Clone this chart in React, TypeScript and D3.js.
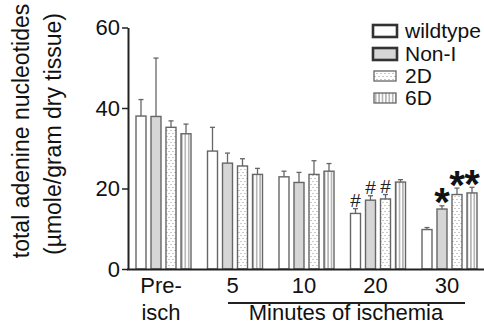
import React from "react";
import * as d3 from "d3";

const groups = ["Pre-isch", "5", "10", "20", "30"];
const series = ["wildtype", "Non-I", "2D", "6D"];

// mean and upper SEM
const wildtypeMean = [38.0, 29.3, 22.9, 13.8, 9.8];
const wildtypeErr = [4.1, 5.9, 1.4, 1.2, 0.5];
const nonIMean = [37.9, 26.3, 21.5, 17.1, 14.9];
const nonIErr = [14.5, 2.5, 2.5, 1.1, 0.8];
const d2Mean = [35.2, 25.6, 23.5, 17.4, 18.5];
const d2Err = [1.6, 1.8, 3.4, 1.1, 1.6];
const d6Mean = [33.6, 23.5, 24.3, 21.6, 18.9];
const d6Err = [2.4, 1.5, 1.9, 0.6, 1.4];

const yTicks = [0, 20, 40, 60];
const hashMarks = [["20", "wildtype"], ["20", "Non-I"], ["20", "2D"]];
const starMarks = [["30", "Non-I"], ["30", "2D"], ["30", "6D"]];

const FONT = "'Liberation Sans', Arial, sans-serif";

export default function App() {
  const svgRef = React.useRef<SVGSVGElement>(null);
  const width = 484;
  const height = 325;

  React.useEffect(() => {
    const svg = d3.select(svgRef.current);
    svg.selectAll("*").remove();

    const means = [wildtypeMean, nonIMean, d2Mean, d6Mean];
    const errs = [wildtypeErr, nonIErr, d2Err, d6Err];
    const rows: { g: string; s: string; v: number; e: number }[] = [];
    groups.forEach((g, gi) => {
      series.forEach((s, si) => {
        rows.push({ g, s, v: means[si][gi], e: errs[si][gi] });
      });
    });

    const x0 = d3.scaleBand().domain(groups).range([128.25, 485.75]);
    const x1 = d3
      .scaleBand()
      .domain(series)
      .range([7.75, 62.75])
      .paddingInner(1 / 3);
    const y = d3.scaleLinear().domain([0, 60]).range([269, 27.5]);

    /* patterns */
    const defs = svg.append("defs");
    const dots = defs
      .append("pattern")
      .attr("id", "dots")
      .attr("patternUnits", "userSpaceOnUse")
      .attr("width", 4)
      .attr("height", 6);
    dots.append("rect").attr("width", 4).attr("height", 6).attr("fill", "#fff");
    dots.append("circle").attr("cx", 1).attr("cy", 1.5).attr("r", 0.6).attr("fill", "#8a8a8a");
    dots.append("circle").attr("cx", 3).attr("cy", 4.5).attr("r", 0.6).attr("fill", "#8a8a8a");

    const vlines = defs
      .append("pattern")
      .attr("id", "vlines")
      .attr("patternUnits", "userSpaceOnUse")
      .attr("width", 3.4)
      .attr("height", 10);
    vlines.append("rect").attr("width", 3.4).attr("height", 10).attr("fill", "#fff");
    vlines
      .append("line")
      .attr("x1", 1.7)
      .attr("x2", 1.7)
      .attr("y1", 0)
      .attr("y2", 10)
      .attr("stroke", "#777")
      .attr("stroke-width", 0.9);

    const fillFor = (s: string) =>
      s === "Non-I" ? "#d6d6d6" : s === "2D" ? "url(#dots)" : s === "6D" ? "url(#vlines)" : "#fff";

    const bx = (g: string, s: string) => (x0(g) ?? 0) + (x1(s) ?? 0);
    const bw = x1.bandwidth();

    /* error bars */
    const eb = svg.append("g").attr("stroke", "#666").attr("stroke-width", 1.3);
    rows.forEach((d) => {
      const cx = bx(d.g, d.s) + bw / 2;
      eb.append("line")
        .attr("x1", cx)
        .attr("x2", cx)
        .attr("y1", y(d.v))
        .attr("y2", y(d.v + d.e));
      eb.append("line")
        .attr("x1", cx - 2.5)
        .attr("x2", cx + 2.5)
        .attr("y1", y(d.v + d.e))
        .attr("y2", y(d.v + d.e));
    });

    /* bars */
    svg
      .append("g")
      .selectAll("rect")
      .data(rows)
      .enter()
      .append("rect")
      .attr("x", (d) => bx(d.g, d.s))
      .attr("y", (d) => y(d.v))
      .attr("width", bw)
      .attr("height", (d) => y(0) - y(d.v))
      .attr("fill", (d) => fillFor(d.s))
      .attr("stroke", "#666")
      .attr("stroke-width", 1.4);

    /* significance marks */
    const findRow = (g: string, s: string) => rows.find((r) => r.g === g && r.s === s)!;
    hashMarks.forEach(([g, s]) => {
      const r = findRow(g, s);
      svg
        .append("text")
        .attr("x", bx(g, s) + bw / 2)
        .attr("y", y(r.v + r.e) - 1.5)
        .attr("text-anchor", "middle")
        .attr("font-family", FONT)
        .attr("font-size", 19)
        .attr("fill", "#222")
        .text("#");
    });
    starMarks.forEach(([g, s]) => {
      const r = findRow(g, s);
      svg
        .append("text")
        .attr("x", bx(g, s) + bw / 2)
        .attr("y", y(r.v + r.e) + 10.5)
        .attr("text-anchor", "middle")
        .attr("font-family", FONT)
        .attr("font-size", 40)
        .attr("font-weight", "bold")
        .attr("fill", "#111")
        .text("*");
    });

    /* y axis */
    const yAxis = d3
      .axisLeft(y)
      .tickValues(yTicks)
      .tickSize(6)
      .tickSizeOuter(0)
      .tickPadding(2)
      .tickFormat((d) => String(d));
    const ya = svg.append("g").attr("transform", "translate(128,0)").call(yAxis);
    ya.select(".domain").attr("stroke", "#222").attr("stroke-width", 2);
    ya.selectAll(".tick line").attr("stroke", "#222").attr("stroke-width", 1.5);
    ya.selectAll(".tick text")
      .attr("font-family", FONT)
      .attr("font-size", 22)
      .attr("fill", "#111");

    /* x axis line */
    svg
      .append("line")
      .attr("x1", 127)
      .attr("x2", 484)
      .attr("y1", y(0) + 0.5)
      .attr("y2", y(0) + 0.5)
      .attr("stroke", "#222")
      .attr("stroke-width", 2);

    /* group labels */
    const lbl = svg
      .append("g")
      .attr("font-family", FONT)
      .attr("font-size", 22)
      .attr("fill", "#111")
      .attr("text-anchor", "middle");
    groups.forEach((g) => {
      const cx = (x0(g) ?? 0) + x0.bandwidth() / 2 - 3;
      if (g === "Pre-isch") {
        lbl.append("text").attr("x", cx).attr("y", 293).text("Pre-");
        lbl.append("text").attr("x", cx).attr("y", 320).text("isch");
      } else {
        lbl.append("text").attr("x", cx).attr("y", 293).text(g);
      }
    });
    svg
      .append("line")
      .attr("x1", 228)
      .attr("x2", 465)
      .attr("y1", 303)
      .attr("y2", 303)
      .attr("stroke", "#222")
      .attr("stroke-width", 2);
    lbl.append("text").attr("x", 346).attr("y", 320).text("Minutes of ischemia");

    /* y title */
    const yt = svg
      .append("g")
      .attr("font-family", FONT)
      .attr("font-size", 23)
      .attr("fill", "#111")
      .attr("text-anchor", "middle");
    yt.append("text")
      .attr("transform", "translate(29,131) rotate(-90)")
      .text("total adenine nucleotides");
    yt.append("text")
      .attr("transform", "translate(61,134) rotate(-90)")
      .text("(\u00b5mole/gram dry tissue)");

    /* legend */
    const legY = [31, 54, 76, 98];
    const leg = svg.append("g");
    series.forEach((s, i) => {
      const heavy = i < 2;
      leg.append("rect")
        .attr("x", heavy ? 373 : 374)
        .attr("y", legY[i] - (heavy ? 6 : 5))
        .attr("width", heavy ? 24 : 22)
        .attr("height", heavy ? 12 : 10)
        .attr("fill", fillFor(s))
        .attr("stroke", heavy ? "#333" : "#666")
        .attr("stroke-width", heavy ? 2.6 : 1.3);
      leg.append("text")
        .attr("x", 405)
        .attr("y", legY[i])
        .attr("dy", "0.35em")
        .attr("font-family", FONT)
        .attr("font-size", 21)
        .attr("fill", "#111")
        .text(s);
    });
  }, []);

  return (
    <div style={{ position: "absolute", left: 0, top: 0 }}>
      <svg ref={svgRef} width={width} height={height} style={{ display: "block", background: "#fff" }} />
    </div>
  );
}
